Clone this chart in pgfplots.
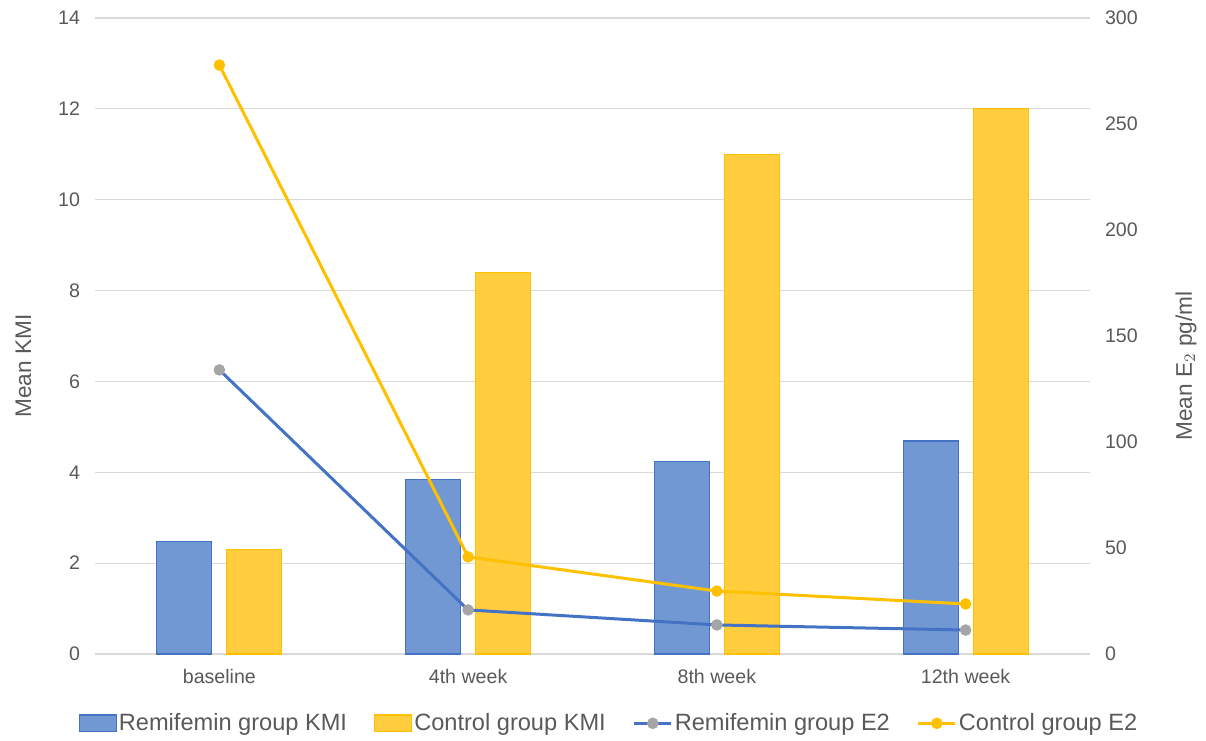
\documentclass[border=0pt]{standalone}
\usepackage{fontspec}
\setmainfont{Liberation Sans}
\usepackage{pgfplots}
\pgfplotsset{compat=1.18}

\definecolor{remiFill}{HTML}{7298D3}
\definecolor{remiLine}{HTML}{4472C4}
\definecolor{ctrlFill}{HTML}{FFCD3E}
\definecolor{ctrlLine}{HTML}{FFC000}
\definecolor{markGray}{HTML}{A5A5A5}
\definecolor{gridGray}{HTML}{D9D9D9}
\definecolor{txtGray}{HTML}{595959}

\pgfplotsset{
  frame/.style={
    scale only axis, width=497.5pt, height=318pt,
    at={(0,0)}, anchor=south west,
    xmin=-0.5, xmax=3.5,
    axis line style={draw=none},
    tick style={draw=none},
    ticklabel style={font=\fontsize{9.8}{11}\selectfont, text=txtGray},
    label style={font=\fontsize{11.3}{13}\selectfont, text=txtGray},
    /pgf/number format/assume math mode=true,
  },
  barlegend/.style={legend image code/.code={
      \draw[##1] (0pt,-4.2pt) rectangle (18.5pt,4.2pt);}},
  linelegend/.style={legend image code/.code={
      \draw[##1, mark repeat=2, mark phase=2]
        plot coordinates {(0pt,0pt) (9.25pt,0pt) (18.5pt,0pt)};}},
}

\begin{document}
\begin{tikzpicture}[x=1pt,y=1pt]
\useasboundingbox (-47.5,-43) rectangle (555.5,327);

% KMI bars on the left axis
\begin{axis}[
  frame,
  ymin=0, ymax=14, ytick={0,2,...,14},
  ymajorgrids, grid style={gridGray, line width=0.6pt},
  xtick={0,1,2,3},
  xticklabels={baseline,4th week,8th week,12th week},
  yticklabel style={xshift=-4pt},
  ylabel={Mean KMI},
  ylabel style={at={(axis description cs:0,0.5)}, anchor=center,
    xshift=-15pt, yshift=35.75pt},
  ybar, bar width=27.5pt,
]
\addplot[bar shift=-17.5pt, fill=remiFill, draw=remiLine, line width=0.6pt]
  coordinates {(0,2.47) (1,3.85) (2,4.23) (3,4.69)};
\addplot[bar shift=17.5pt, fill=ctrlFill, draw=ctrlLine, line width=0.6pt]
  coordinates {(0,2.30) (1,8.39) (2,11.0) (3,12.0)};
\end{axis}

% E2 lines on the right axis
\begin{axis}[
  frame,
  ymin=0, ymax=300, ytick={0,50,...,300},
  xtick=\empty,
  yticklabel pos=right,
  yticklabel style={xshift=4pt},
  ylabel={Mean E$_2$ pg/ml},
  ylabel style={at={(axis description cs:1,0.5)}, anchor=center,
    xshift=-15pt, yshift=-48pt},
  legend style={
    at={(axis description cs:0.5166,-0.109)}, anchor=center,
    draw=none, fill=none, legend columns=4,
    font=\fontsize{11.8}{14}\selectfont, text=txtGray,
    inner xsep=0pt, inner ysep=0pt,
    nodes={inner xsep=1pt, inner ysep=1pt},
    /tikz/every even column/.append style={column sep=12.5pt},
  },
]
\addlegendimage{barlegend, fill=remiFill, draw=remiLine, line width=0.6pt}
\addlegendentry{Remifemin group KMI}
\addlegendimage{barlegend, fill=ctrlFill, draw=ctrlLine, line width=0.6pt}
\addlegendentry{Control group KMI}

\addplot[linelegend, remiLine, line width=1.5pt, mark=*, mark size=2.1pt,
  mark options={fill=markGray, draw=markGray}]
  coordinates {(0,134.0) (1,20.8) (2,13.7) (3,11.3)};
\addlegendentry{Remifemin group E2}
\addplot[linelegend, ctrlLine, line width=1.5pt, mark=*, mark size=2.1pt,
  mark options={fill=ctrlLine, draw=ctrlLine}]
  coordinates {(0,277.8) (1,45.8) (2,29.7) (3,23.6)};
\addlegendentry{Control group E2}
\end{axis}
\end{tikzpicture}
\end{document}
